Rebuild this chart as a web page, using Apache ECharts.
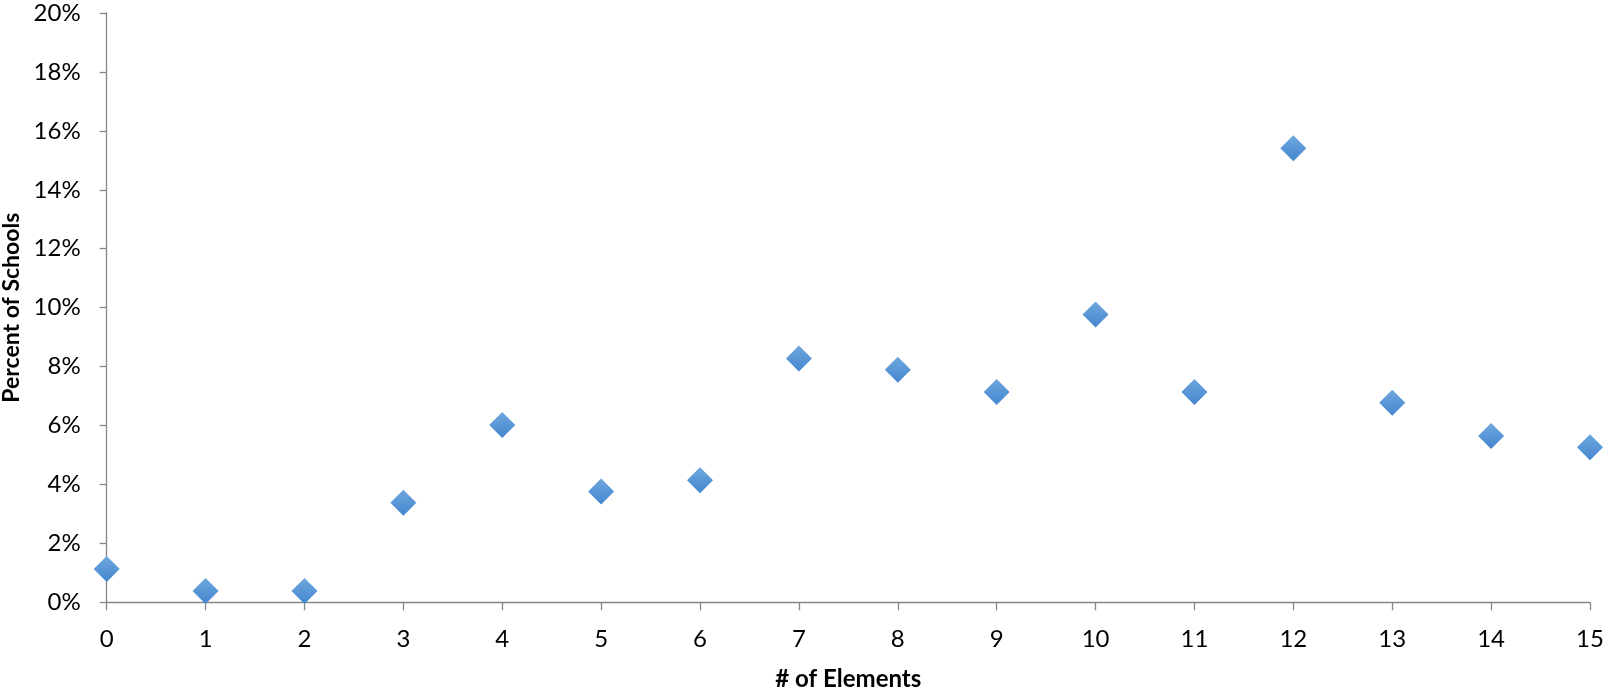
<!DOCTYPE html>
<html>
<head>
<meta charset="utf-8">
<script src="https://cdn.jsdelivr.net/npm/echarts@6/dist/echarts.min.js"></script>
<style>
html,body{margin:0;padding:0;background:#fff;}
#c{width:1604px;height:691px;}
</style>
</head>
<body>
<div id="c"></div>
<script>
var elements = [0,1,2,3,4,5,6,7,8,9,10,11,12,13,14,15];
var percentOfSchools = [1.13,0.38,0.38,3.38,6.02,3.76,4.14,8.27,7.89,7.14,9.77,7.14,15.41,6.77,5.64,5.26];
var xTitle = '# of Elements';
var yTitle = 'Percent of Schools';

var points = elements.map(function(e,i){return [e, percentOfSchools[i]];});
var FONT = 'Lato';
var axisGray = '#868686';

var chart = echarts.init(document.getElementById('c'), null, {renderer:'canvas'});
chart.setOption({
  animation:false,
  backgroundColor:'#ffffff',
  grid:{left:106.7, right:14, top:13, bottom:88.7, containLabel:false, outerBoundsMode:'none'},
  xAxis:{
    type:'value', min:0, max:15, interval:1,
    name:xTitle, nameLocation:'middle', nameGap:65,
    nameTextStyle:{fontFamily:FONT, fontSize:24, fontWeight:'bold', color:'#000'},
    axisLine:{show:true, onZero:false, lineStyle:{color:axisGray, width:1.3}},
    axisTick:{show:true, inside:false, length:8, lineStyle:{color:axisGray, width:1.3}},
    axisLabel:{fontFamily:FONT, fontSize:24, color:'#000', margin:25},
    splitLine:{show:false}
  },
  yAxis:{
    type:'value', min:0, max:20, interval:2,
    name:yTitle, nameLocation:'middle', nameGap:82, nameRotate:90,
    nameTextStyle:{fontFamily:FONT, fontSize:23, fontWeight:'bold', color:'#000'},
    axisLine:{show:true, lineStyle:{color:axisGray, width:1.3}},
    axisTick:{show:true, inside:false, length:7, lineStyle:{color:axisGray, width:1.3}},
    axisLabel:{fontFamily:FONT, fontSize:24, color:'#000', margin:26, formatter:'{value}%'},
    splitLine:{show:false}
  },
  series:[{
    type:'scatter',
    data:points,
    symbol:'diamond',
    symbolSize:[26,26],
    itemStyle:{
      color:new echarts.graphic.LinearGradient(0,0,0,1,[
        {offset:0,color:'#6fa7de'},
        {offset:1,color:'#4486cf'}
      ]),
      opacity:1
    }
  }]
});
</script>
</body>
</html>
